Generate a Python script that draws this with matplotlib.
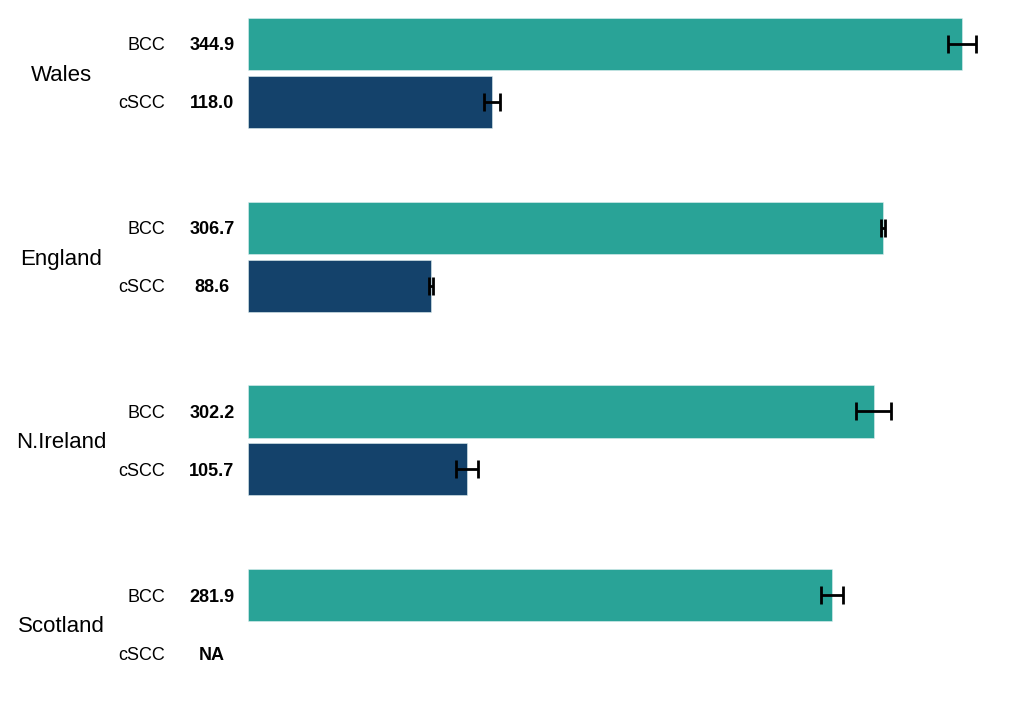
import numpy as np
import matplotlib.pyplot as plt
from matplotlib.transforms import blended_transform_factory

plt.rcParams['font.family'] = ['Liberation Sans', 'DejaVu Sans']

nations = ['Wales', 'England', 'N.Ireland', 'Scotland']
types = ['BCC', 'cSCC']
bcc = [344.9, 306.7, 302.2, 281.9]
bcc_lo = [338.2, 305.8, 293.7, 276.8]
bcc_hi = [351.7, 307.7, 310.6, 287.4]
scc = [118.0, 88.6, 105.7, np.nan]
scc_lo = [114.0, 87.4, 100.5, np.nan]
scc_hi = [121.7, 89.4, 111.1, np.nan]

teal = '#29A397'
navy = '#14426B'

fig = plt.figure(figsize=(10.24, 7.02), dpi=100)
ax = fig.add_axes([248 / 1024, 0, 752 / 1024, 1])

px_unit = 2.070
ax.set_xlim(0, 752 / px_unit)
row = 58.0
ax.set_ylim((702 - 44) / row, -44 / row)
gap = 183.7 / row

tr = blended_transform_factory(fig.transFigure, ax.transData)

for g, name in enumerate(nations):
    y0 = g * gap
    vals = [bcc[g], scc[g]]
    los = [bcc_lo[g], scc_lo[g]]
    his = [bcc_hi[g], scc_hi[g]]
    cols = [teal, navy]
    for k in range(2):
        y = y0 + k
        v = vals[k]
        ax.text(165 / 1024, y, types[k], transform=tr, ha='right',
                va='center_baseline', fontsize=13)
        if np.isnan(v):
            ax.text(212 / 1024, y, 'NA', transform=tr, ha='center',
                    va='center_baseline', fontsize=13, fontweight='bold')
            continue
        ax.barh(y, v, height=0.9, color=cols[k], edgecolor='#e0f0f0', linewidth=0.4)
        ax.errorbar(v, y, xerr=[[v - los[k]], [his[k] - v]], fmt='none',
                    ecolor='black', elinewidth=2, capsize=6.5, capthick=2)
        ax.text(212 / 1024, y, f'{v:.1f}', transform=tr, ha='center',
                va='center_baseline', fontsize=13, fontweight='bold')
    ax.text(61 / 1024, y0 + 0.5, name, transform=tr, ha='center',
            va='center_baseline', fontsize=16)

ax.axis('off')
fig.savefig('out.png', dpi=100)
